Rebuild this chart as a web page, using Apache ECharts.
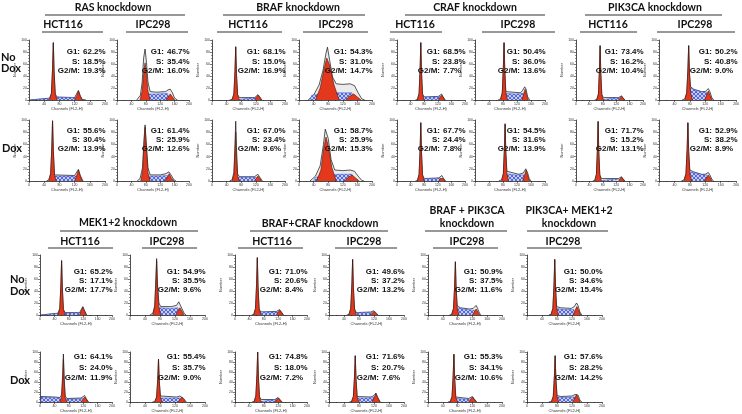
<!DOCTYPE html>
<html>
<head>
<meta charset="utf-8">
<script src="https://cdn.jsdelivr.net/npm/echarts@6/dist/echarts.min.js"></script>
<style>
  html, body { margin: 0; padding: 0; background: #fff; }
  #chart { width: 742px; height: 414px; }
</style>
</head>
<body>
<div id="chart"></div>
<script>
// panel order: top No Dox (8), top Dox (8), bottom No Dox (6), bottom Dox (6)
const g1Pct = [62.2, 46.7, 68.1, 54.3, 68.5, 50.4, 73.4, 50.2,
  55.6, 61.4, 67.0, 58.7, 67.7, 54.5, 71.7, 52.9,
  65.2, 54.9, 71.0, 49.6, 50.9, 50.0,
  64.1, 55.4, 74.8, 71.6, 55.3, 57.6]
const sPct = [18.5, 35.4, 15.0, 31.0, 23.8, 36.0, 16.2, 40.8,
  30.4, 25.9, 23.4, 25.9, 24.4, 31.6, 15.2, 38.2,
  17.1, 35.5, 20.6, 37.2, 37.5, 34.6,
  24.0, 35.7, 18.0, 20.7, 34.1, 28.2]
const g2mPct = [19.3, 16.0, 16.9, 14.7, 7.7, 13.6, 10.4, 9.0,
  13.9, 12.6, 9.6, 15.3, 7.8, 13.9, 13.1, 8.9,
  17.7, 9.6, 8.4, 13.2, 11.6, 15.4,
  11.9, 9.0, 7.2, 7.6, 10.6, 14.2]

// [channel, count] points
const g1Peaks = [
  [[54,0],[59,11],[62,52],[64,95],[66,48],[69,10],[74,0]],
  [[64,0],[70,15],[75,50],[78,62],[81,48],[86,15],[92,0]],
  [[55,0],[60,10],[63,48],[65,88],[67,44],[70,9],[75,0]],
  [[45,0],[58,20],[68,50],[76,70],[84,58],[96,25],[110,0]],
  [[60,0],[65,11],[68,52],[70,95],[72,48],[75,10],[80,0]],
  [[73,0],[78,12],[81,55],[83,95],[85,50],[88,12],[93,0]],
  [[62,0],[67,10],[70,50],[72,90],[74,45],[77,9],[82,0]],
  [[67,0],[72,12],[75,50],[77,90],[79,45],[82,12],[87,0]],
  [[52,0],[57,12],[60,54],[62,98],[64,50],[67,10],[72,0]],
  [[66,0],[71,15],[75,60],[78,88],[81,58],[86,14],[92,0]],
  [[55,0],[60,10],[63,45],[65,80],[67,40],[70,8],[75,0]],
  [[48,0],[60,18],[68,55],[74,72],[80,58],[90,22],[102,0]],
  [[60,0],[65,11],[68,52],[70,95],[72,48],[75,10],[80,0]],
  [[76,0],[81,12],[84,52],[86,93],[88,48],[91,12],[96,0]],
  [[56,0],[61,11],[64,53],[66,97],[68,48],[71,10],[76,0]],
  [[65,0],[70,12],[73,52],[75,95],[77,48],[80,12],[85,0]],
  [[50,0],[55,11],[58,50],[60,90],[62,46],[65,9],[70,0]],
  [[61,0],[66,14],[69,55],[71,90],[73,50],[77,13],[82,0]],
  [[52,0],[57,11],[60,52],[62,95],[64,48],[67,10],[72,0]],
  [[53,0],[58,11],[61,50],[63,92],[65,46],[68,10],[73,0]],
  [[64,0],[69,11],[72,48],[74,88],[76,44],[79,10],[84,0]],
  [[64,0],[69,11],[72,50],[74,92],[76,46],[79,10],[84,0]],
  [[55,0],[60,10],[63,45],[65,85],[67,42],[70,9],[75,0]],
  [[66,0],[71,10],[74,46],[76,85],[78,42],[81,10],[86,0]],
  [[53,0],[58,12],[61,55],[63,100],[65,50],[68,10],[73,0]],
  [[60,0],[65,11],[68,50],[70,92],[72,46],[75,10],[80,0]],
  [[60,0],[65,11],[68,52],[70,95],[72,48],[75,10],[80,0]],
  [[65,0],[70,11],[73,50],[75,92],[77,46],[80,10],[85,0]]
]
const sBands = [
  [[4,0],[6,3],[60,3],[70,4],[125,4],[127,0]],
  [[84,0],[86,10],[110,10],[140,11],[146,0]],
  [[66,0],[68,3],[100,3],[120,4],[124,0]],
  [[30,0],[35,8],[60,10],[100,12],[145,12],[150,0]],
  [[72,0],[74,5],[110,5],[126,6],[128,0]],
  [[86,0],[88,11],[115,10],[138,11],[141,0]],
  [[74,0],[76,3],[110,3],[131,4],[133,0]],
  [[80,0],[82,20],[95,16],[115,13],[124,13],[126,0]],
  [[64,0],[66,8],[100,8],[124,8],[126,0]],
  [[84,0],[86,8],[115,8],[140,9],[143,0]],
  [[66,0],[68,6],[100,6],[121,6],[123,0]],
  [[40,0],[45,6],[70,9],[110,11],[145,11],[150,0]],
  [[72,0],[74,4],[110,4],[127,5],[129,0]],
  [[89,0],[91,12],[115,10],[140,10],[143,0]],
  [[68,0],[70,3],[110,3],[131,3],[133,0]],
  [[78,0],[80,15],[95,13],[115,10],[124,10],[126,0]],
  [[4,0],[6,3],[55,3],[65,3],[113,4],[115,0]],
  [[76,0],[78,12],[105,11],[128,12],[131,0]],
  [[64,0],[66,5],[100,5],[119,5],[121,0]],
  [[65,0],[67,4],[100,4],[115,4],[117,0]],
  [[77,0],[79,12],[95,10],[118,8],[125,8],[127,0]],
  [[77,0],[79,11],[100,9],[125,9],[128,0]],
  [[2,0],[3,10],[30,9],[55,8],[70,6],[100,6],[118,7],[120,0]],
  [[79,0],[81,8],[110,8],[133,8],[135,0]],
  [[65,0],[67,4],[100,4],[115,5],[117,0]],
  [[72,0],[74,8],[100,8],[120,9],[122,0]],
  [[72,0],[74,7],[100,6],[115,6],[117,0]],
  [[77,0],[79,10],[105,9],[127,10],[129,0]]
]
const g2mPeaks = [
  [[120,0],[125,6],[130,15],[135,6],[140,0]],
  [[136,0],[142,5],[148,10],[154,5],[160,0]],
  [[117,0],[121,4],[126,8],[131,4],[135,0]],
  [[128,0],[138,6],[150,10],[160,5],[170,0]],
  [[122,0],[126,4],[131,8],[136,4],[140,0]],
  [[134,0],[138,8],[143,18],[148,8],[152,0]],
  [[127,0],[131,3],[136,6],[141,3],[145,0]],
  [[118,0],[123,7],[128,15],[133,7],[138,0]],
  [[120,0],[125,8],[130,18],[135,8],[140,0]],
  [[132,0],[139,5],[145,12],[151,5],[158,0]],
  [[116,0],[121,4],[126,8],[131,4],[136,0]],
  [[125,0],[135,6],[145,10],[155,5],[165,0]],
  [[123,0],[127,4],[132,7],[137,4],[141,0]],
  [[136,0],[141,8],[146,18],[151,8],[156,0]],
  [[127,0],[131,3],[136,6],[141,3],[145,0]],
  [[118,0],[123,5],[128,10],[133,5],[138,0]],
  [[110,0],[114,6],[119,13],[124,6],[128,0]],
  [[122,0],[127,6],[133,12],[139,6],[144,0]],
  [[115,0],[119,4],[124,8],[129,4],[133,0]],
  [[111,0],[115,3],[120,6],[125,3],[129,0]],
  [[120,0],[125,5],[130,10],[135,5],[140,0]],
  [[123,0],[128,7],[133,14],[138,7],[143,0]],
  [[114,0],[119,5],[124,10],[129,5],[133,0]],
  [[128,0],[133,5],[138,10],[143,5],[148,0]],
  [[111,0],[115,4],[120,8],[125,4],[129,0]],
  [[115,0],[120,8],[125,17],[130,8],[135,0]],
  [[110,0],[115,5],[120,10],[125,5],[130,0]],
  [[122,0],[127,7],[132,15],[137,7],[142,0]]
]
const envelopes = [
  [[2,0],[4,3],[54,3],[59,11],[62,52],[64,96],[66,48],[69,10],[74,5],[120,4],[125,7],[130,16],[135,7],[140,1],[150,0]],
  [[55,0],[65,8],[70,30],[74,70],[78,85],[82,62],[86,30],[92,14],[110,13],[135,14],[142,17],[148,18],[154,12],[160,3],[168,0]],
  [[48,0],[55,1],[60,10],[63,48],[65,89],[67,44],[70,9],[75,4],[117,4],[121,6],[126,9],[131,5],[137,0]],
  [[25,0],[40,8],[55,25],[66,50],[74,78],[78,88],[84,66],[92,38],[102,27],[120,26],[140,27],[152,24],[162,12],[172,2],[180,0]],
  [[54,0],[60,1],[65,11],[68,52],[70,96],[72,48],[75,10],[80,5],[122,6],[126,8],[131,10],[136,5],[142,0]],
  [[66,0],[73,2],[78,12],[81,55],[83,96],[85,50],[88,14],[93,11],[130,12],[136,16],[142,22],[146,18],[150,6],[156,0]],
  [[56,0],[62,1],[67,10],[70,50],[72,91],[74,45],[77,9],[82,4],[127,4],[131,5],[136,7],[141,3],[147,0]],
  [[60,0],[67,2],[72,12],[75,50],[77,91],[79,45],[82,22],[90,18],[110,14],[120,14],[125,17],[128,19],[132,14],[137,4],[142,0]],
  [[46,0],[52,2],[57,12],[60,54],[62,99],[64,50],[67,10],[72,8],[120,9],[125,12],[130,19],[135,9],[142,0]],
  [[56,0],[64,4],[71,22],[75,68],[78,92],[81,65],[86,22],[92,10],[120,10],[136,12],[144,15],[150,10],[158,2],[164,0]],
  [[48,0],[55,2],[60,14],[63,60],[65,98],[67,55],[70,12],[75,7],[116,7],[121,9],[126,11],[131,6],[138,0]],
  [[30,0],[45,8],[58,25],[67,60],[72,85],[75,88],[80,70],[88,35],[98,18],[120,17],[140,18],[152,16],[162,8],[172,1],[178,0]],
  [[54,0],[60,1],[65,11],[68,52],[70,96],[72,48],[75,10],[80,4],[123,5],[127,7],[132,9],[137,4],[143,0]],
  [[68,0],[76,2],[81,12],[84,52],[86,94],[88,48],[91,16],[96,13],[125,11],[138,13],[145,20],[150,14],[155,4],[160,0]],
  [[50,0],[56,1],[61,11],[64,53],[66,98],[68,48],[71,10],[76,4],[127,4],[131,5],[136,7],[141,3],[147,0]],
  [[58,0],[65,2],[70,12],[73,52],[75,96],[77,48],[80,18],[90,15],[110,11],[120,11],[125,13],[128,14],[132,10],[137,3],[142,0]],
  [[2,0],[4,3],[50,3],[55,11],[58,50],[60,91],[62,46],[65,9],[70,4],[110,4],[114,7],[119,14],[124,7],[130,0]],
  [[53,0],[61,3],[66,16],[69,60],[71,94],[73,55],[77,20],[82,14],[110,14],[124,16],[130,22],[134,21],[139,10],[145,2],[150,0]],
  [[46,0],[52,1],[57,11],[60,52],[62,96],[64,48],[67,10],[72,5],[115,6],[119,7],[124,9],[129,5],[135,0]],
  [[47,0],[53,1],[58,11],[61,50],[63,93],[65,46],[68,10],[73,4],[111,5],[115,5],[120,7],[125,4],[131,0]],
  [[58,0],[64,1],[69,11],[72,48],[74,89],[76,44],[79,15],[88,12],[112,10],[122,11],[127,14],[130,16],[134,11],[139,3],[144,0]],
  [[58,0],[64,1],[69,11],[72,50],[74,93],[76,46],[79,14],[90,12],[118,11],[126,14],[132,20],[136,16],[141,5],[146,0]],
  [[1,0],[2,11],[40,10],[55,9],[60,14],[63,55],[65,96],[67,50],[70,12],[75,7],[114,8],[119,10],[124,13],[129,6],[135,0]],
  [[60,0],[66,1],[71,10],[74,46],[76,86],[78,42],[81,12],[86,9],[125,10],[133,12],[138,14],[143,7],[150,0]],
  [[47,0],[53,1],[58,12],[61,55],[63,100],[65,50],[68,10],[73,5],[111,5],[115,6],[120,9],[125,5],[131,0]],
  [[54,0],[60,1],[65,11],[68,50],[70,93],[72,46],[75,11],[80,9],[112,10],[120,13],[125,18],[130,9],[137,0]],
  [[54,0],[60,1],[65,11],[68,52],[70,96],[72,48],[75,10],[80,7],[110,7],[115,8],[120,11],[125,6],[132,0]],
  [[58,0],[65,1],[70,11],[73,50],[75,93],[77,46],[80,13],[90,11],[120,12],[128,15],[132,18],[136,14],[141,4],[146,0]]
]

const groupTitles = ['RAS knockdown', 'BRAF knockdown', 'CRAF knockdown', 'PIK3CA knockdown',
  'MEK1+2 knockdown', 'BRAF+CRAF knockdown']
const stackedTitles = [['BRAF + PIK3CA', 'knockdown'], ['PIK3CA+ MEK1+2', 'knockdown']]
const cellLines = ['HCT116', 'IPC298']

// layout (px)
const topCols = [[29, 76], [117, 72], [212, 73], [299, 73], [397, 68], [475, 70], [576, 67], [659, 78]]
const botCols = [[40, 72], [130, 75], [235, 72], [329, 75], [428, 74], [527, 75]]
const rows = [
  { top: 40, h: 60, cols: topCols, ty: 52, dy: 9.5 },
  { top: 120, h: 61, cols: topCols, ty: 131, dy: 9 },
  { top: 255, h: 60, cols: botCols, ty: 272, dy: 8.7 },
  { top: 352, h: 50, cols: botCols, ty: 357, dy: 10.5 }
]

const hatch = document.createElement('canvas')
hatch.width = 4; hatch.height = 4
const hc = hatch.getContext('2d')
hc.fillStyle = '#c3cbf6'
hc.fillRect(0, 0, 4, 4)
hc.strokeStyle = '#3a52cf'
hc.lineWidth = 0.8
hc.beginPath()
hc.moveTo(0, 4); hc.lineTo(4, 0)
hc.moveTo(0, 0); hc.lineTo(4, 4)
hc.stroke()

const RED = '#e4381c'
const grids = [], xAxes = [], yAxes = [], series = [], graphics = []
const textFont = 'bold 8px "Liberation Sans Narrow", "Liberation Sans", Arial, sans-serif'

let p = 0
rows.forEach((row) => {
  row.cols.forEach(([left, w]) => {
    grids.push({ left: left, top: row.top, width: w, height: row.h })
    xAxes.push({
      gridIndex: p, type: 'value', min: 0, max: 200, interval: 40,
      name: 'Channels (FL2-H)', nameLocation: 'middle', nameGap: 7,
      nameTextStyle: { fontSize: 4, color: '#333' },
      axisLine: { lineStyle: { color: '#222', width: 0.8 } },
      axisTick: { length: 2, lineStyle: { color: '#222', width: 0.6 } },
      minorTick: { show: true, splitNumber: 2, length: 1, lineStyle: { color: '#222', width: 0.5 } },
      axisLabel: { fontSize: 3.5, margin: 2, color: '#333' },
      splitLine: { show: false }
    })
    yAxes.push({
      gridIndex: p, type: 'value', min: 0, max: 100, interval: 20,
      name: 'Number', nameLocation: 'middle', nameGap: 10, nameRotate: 90,
      nameTextStyle: { fontSize: 4, color: '#333' },
      axisLine: { show: true, lineStyle: { color: '#222', width: 0.8 } },
      axisTick: { show: true, length: 2, lineStyle: { color: '#222', width: 0.6 } },
      minorTick: { show: true, splitNumber: 4, length: 1, lineStyle: { color: '#222', width: 0.5 } },
      axisLabel: { fontSize: 3.5, margin: 2, color: '#333' },
      splitLine: { show: false }
    })
    const base = { type: 'line', xAxisIndex: p, yAxisIndex: p, symbol: 'none', silent: true, animation: false }
    series.push(Object.assign({}, base, {
      data: envelopes[p], lineStyle: { color: '#111', width: 0.7 }, areaStyle: { color: '#ebebeb', opacity: 1 }, z: 1
    }))
    series.push(Object.assign({}, base, {
      data: sBands[p], lineStyle: { color: '#3a52cf', width: 0.5 }, areaStyle: { color: { image: hatch, repeat: 'repeat' }, opacity: 1 }, z: 2
    }))
    series.push(Object.assign({}, base, {
      data: g1Peaks[p], lineStyle: { color: '#4a140c', width: 0.6 }, areaStyle: { color: RED, opacity: 1 }, z: 3
    }))
    series.push(Object.assign({}, base, {
      data: g2mPeaks[p], lineStyle: { color: '#4a140c', width: 0.6 }, areaStyle: { color: RED, opacity: 1 }, z: 3
    }))
    // phase percentages
    const vx = left + w - 22
    const lines = [['G1:', g1Pct[p]], ['S:', sPct[p]], ['G2/M:', g2mPct[p]]]
    lines.forEach(([lab, v], k) => {
      const y = row.ty + k * row.dy
      graphics.push({ type: 'text', x: vx - 3, y: y, z: 10, style: { text: lab, font: textFont, fill: '#111', textAlign: 'right', align: 'right', textVerticalAlign: 'middle', verticalAlign: 'middle' } })
      graphics.push({ type: 'text', x: vx, y: y, z: 10, style: { text: v.toFixed(1) + '%', font: textFont, fill: '#111', textAlign: 'left', align: 'left', textVerticalAlign: 'middle', verticalAlign: 'middle' } })
    })
    p++
  })
})

function label(text, x, y, font, align) {
  graphics.push({ type: 'text', x: x, y: y, z: 10, style: { text: text, font: font, fill: '#111', textAlign: align || 'center', align: align || 'center', textVerticalAlign: 'middle', verticalAlign: 'middle' } })
}
function rule(x1, x2, y, wd) {
  graphics.push({ type: 'line', z: 10, shape: { x1: x1, y1: y, x2: x2, y2: y }, style: { stroke: '#333', lineWidth: wd || 1.2 } })
}
const headFont = 'bold 10.5px Lato, "Open Sans", sans-serif'
const sideFont = 'bold 11px Lato, "Open Sans", sans-serif'

// top group headers
label(groupTitles[0], 113, 8, headFont); rule(45, 185, 15)
label(groupTitles[1], 298, 8, headFont); rule(223, 365, 15)
label(groupTitles[2], 475, 8, headFont); rule(405, 545, 15)
label(groupTitles[3], 655, 8, headFont); rule(585, 722, 15)
const topCell = [[63, 42, 103], [153, 126, 188], [248, 217, 282], [336, 303, 368],
  [415, 390, 442], [518, 482, 555], [608, 580, 637], [695, 657, 735]]
topCell.forEach(([c, a, b], i) => { label(cellLines[i % 2], c, 25, headFont); rule(a, b, 32) })

// bottom group headers
label(groupTitles[4], 128, 223, headFont); rule(60, 198, 231)
label(groupTitles[5], 320, 224, headFont); rule(250, 388, 231)
label(stackedTitles[0][0], 467, 211, headFont); label(stackedTitles[0][1], 467, 224, headFont); rule(425, 507, 231)
label(stackedTitles[1][0], 569, 211, headFont); label(stackedTitles[1][1], 569, 224, headFont); rule(527, 608, 231)
const botCell = [[80, 48, 113], [167, 142, 197], [272, 238, 303], [364, 335, 397], [467, 433, 498], [563, 527, 582]]
botCell.forEach(([c, a, b], i) => { label(cellLines[i < 4 ? i % 2 : 1], c, 242, headFont); rule(a, b, 248) })

// condition labels
label('No', 1, 57, sideFont, 'left'); label('Dox', 1, 68, sideFont, 'left')
label('Dox', 2, 148, sideFont, 'left')
label('No', 10, 279, sideFont, 'left'); label('Dox', 10, 291, sideFont, 'left')
label('Dox', 10, 380, sideFont, 'left')

const chart = echarts.init(document.getElementById('chart'))
chart.setOption({
  backgroundColor: '#fff',
  animation: false,
  grid: grids,
  xAxis: xAxes,
  yAxis: yAxes,
  series: series,
  graphic: { elements: graphics }
})
</script>
</body>
</html>
